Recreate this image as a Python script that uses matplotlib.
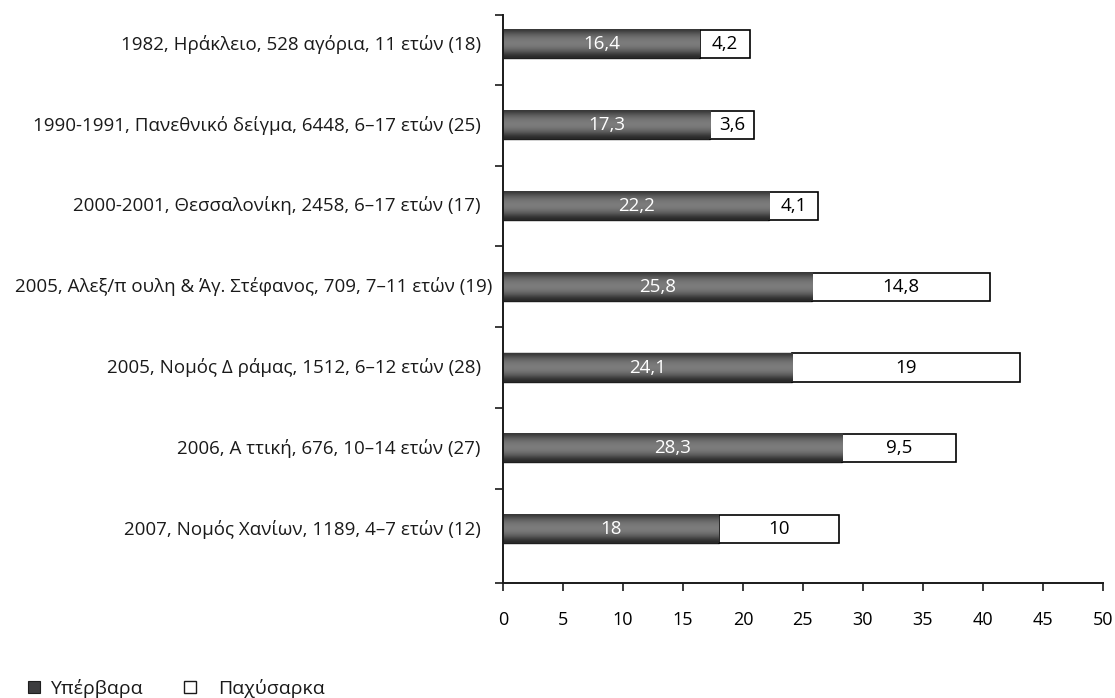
import numpy as np
import matplotlib
matplotlib.use("Agg")
import matplotlib.pyplot as plt
from matplotlib.patches import Rectangle
import matplotlib.transforms as mtransforms

plt.rcParams['font.family'] = ['Open Sans', 'DejaVu Sans']

categories = [
    "1982, Ηράκλειο, 528 αγόρια, 11 ετών (18)",
    "1990-1991, Πανεθνικό δείγμα, 6448, 6–17 ετών (25)",
    "2000-2001, Θεσσαλονίκη, 2458, 6–17 ετών (17)",
    "2005, Αλεξ/π ουλη & Άγ. Στέφανος, 709, 7–11 ετών (19)",
    "2005, Νομός Δ ράμας, 1512, 6–12 ετών (28)",
    "2006, Α ττική, 676, 10–14 ετών (27)",
    "2007, Νομός Χανίων, 1189, 4–7 ετών (12)",
]
overweight = [16.4, 17.3, 22.2, 25.8, 24.1, 28.3, 18]
obese = [4.2, 3.6, 4.1, 14.8, 19, 9.5, 10]
overweight_labels = ["16,4", "17,3", "22,2", "25,8", "24,1", "28,3", "18"]
obese_labels = ["4,2", "3,6", "4,1", "14,8", "19", "9,5", "10"]
xticks = [0, 5, 10, 15, 20, 25, 30, 35, 40, 45, 50]
legend_labels = ["Υπέρβαρα", "Παχύσαρκα"]

fig = plt.figure(figsize=(11.15, 6.98), dpi=100)
ax = fig.add_axes([503/1115, 115/698, 599.7/1115, 568/698])

y = np.arange(len(categories))
h = 0.35

dark = ax.barh(y, overweight, height=h, color="#4a4a4c", edgecolor="#1e1e1e",
               linewidth=1.0, zorder=2)
light = ax.barh(y, obese, left=overweight, height=h, color="white",
                edgecolor="black", linewidth=1.2, zorder=2)

# vertical gradient on dark bars
grad = np.array([0.22, 0.33, 0.40, 0.45, 0.48, 0.49, 0.47, 0.42, 0.34, 0.24, 0.16]).reshape(-1, 1)
for p in dark.patches:
    x0, y0 = p.get_x(), p.get_y()
    ax.imshow(grad, cmap="gray", vmin=0, vmax=1, aspect="auto",
              extent=[x0, x0 + p.get_width(), y0 + p.get_height(), y0],
              interpolation="bicubic", zorder=2.5)

for i in range(len(categories)):
    ax.text(overweight[i] / 2, y[i], overweight_labels[i], ha="center", va="center",
            color="white", fontsize=13.5, zorder=3)
    ax.text(overweight[i] + obese[i] / 2, y[i], obese_labels[i], ha="center",
            va="center", color="black", fontsize=13.5, zorder=3)

ax.set_xlim(0, 50)
ax.set_ylim(6.667, -0.363)
ax.set_xticks(xticks)
ax.set_xticklabels([str(t) for t in xticks], fontsize=13)

ax.set_yticks(list(np.arange(len(categories) + 1) - 0.5)[1:-1] + [-0.363, 6.667])
ax.set_yticklabels([])
# category labels
for i, c in enumerate(categories):
    xoff = -0.9 if i == 3 else -1.85
    ax.text(xoff, y[i], c, ha="right", va="center", fontsize=13.5, color="#1a1a1a")

for s in ["top", "right"]:
    ax.spines[s].set_visible(False)
for s in ["left", "bottom"]:
    ax.spines[s].set_linewidth(1.4)
    ax.spines[s].set_color("#1a1a1a")
ax.tick_params(axis="both", direction="out", length=6, width=1.2, color="#1a1a1a")
ax.tick_params(axis="x", pad=14)

# legend
W, H = 1115, 698
fig.patches.append(Rectangle((28/W, (698-693)/H), 12/W, 12/H, transform=fig.transFigure,
                             facecolor="#3c3c3e", edgecolor="#1e1e1e", linewidth=0.8))
fig.text(50/W, (698-688)/H, legend_labels[0], ha="left", va="center", fontsize=14, color="#1a1a1a")
fig.patches.append(Rectangle((184/W, (698-693)/H), 12/W, 12/H, transform=fig.transFigure,
                             facecolor="white", edgecolor="#1a1a1a", linewidth=1.0))
fig.text(218/W, (698-688)/H, legend_labels[1], ha="left", va="center", fontsize=14, color="#1a1a1a")

fig.savefig("out.png", dpi=100)
